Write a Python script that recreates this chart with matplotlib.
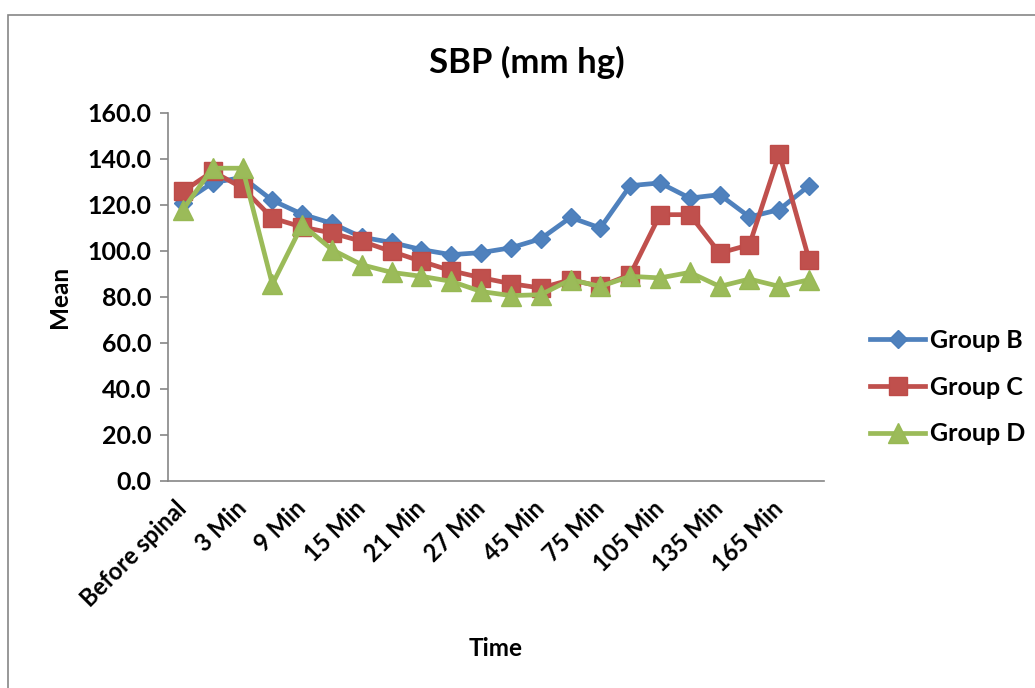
import matplotlib.pyplot as plt
from matplotlib.patches import Rectangle
import numpy as np

plt.rcParams["font.family"] = ["Lato", "DejaVu Sans"]
plt.rcParams["font.weight"] = "bold"

TIMES = ["Before spinal", "1 Min", "3 Min", "6 Min", "9 Min", "12 Min", "15 Min",
         "18 Min", "21 Min", "24 Min", "27 Min", "30 Min", "45 Min", "60 Min",
         "75 Min", "90 Min", "105 Min", "120 Min", "135 Min", "150 Min",
         "165 Min", "180 Min"]

group_b = [121.0, 129.7, 132.0, 122.0, 116.0, 112.0, 106.0, 103.7, 100.6, 98.4, 99.3,
           101.4, 105.3, 114.6, 110.0, 128.4, 129.6, 123.0, 124.5, 114.8, 118.0, 128.4]
group_c = [125.9, 134.6, 127.4, 114.3, 110.4, 107.8, 104.2, 99.8, 95.5, 91.4, 88.4,
           85.8, 83.9, 87.5, 84.6, 89.7, 115.8, 115.8, 99.1, 102.7, 142.3, 96.2]
group_d = [118.0, 136.0, 136.0, 85.5, 111.4, 100.6, 94.0, 90.7, 89.0, 86.8, 82.4,
           80.6, 81.0, 87.5, 84.6, 89.0, 88.3, 90.7, 84.6, 87.8, 84.6, 87.5]

x = np.arange(len(TIMES))

fig = plt.figure(figsize=(10.35, 6.88), dpi=100)
ax = fig.add_axes([168 / 1035, 1 - 481 / 688, (824 - 168) / 1035, (481 - 113) / 688])

# chart area border (runs off the right and bottom edge)
fig.add_artist(Rectangle((8 / 1035, -0.2), 1.2, 0.2 + (1 - 15 / 688),
                         transform=fig.transFigure, fill=False,
                         edgecolor="#868686", linewidth=1.2))

ax.plot(x, group_b, color="#4F81BD", lw=3.4, marker="D", ms=9.5,
        mec="#4A7EBB", mfc="#4F81BD", label="Group B")
ax.plot(x, group_c, color="#C0504D", lw=3.4, marker="s", ms=13,
        mec="#BE4B48", mfc="#C0504D", label="Group C")
ax.plot(x, group_d, color="#9BBB59", lw=3.4, marker="^", ms=14,
        mec="#98B954", mfc="#9BBB59", label="Group D")

ax.set_xlim(-0.5, len(TIMES) - 0.5)
ax.set_ylim(0, 160)
ax.set_yticks(np.arange(0, 161, 20))
ax.set_yticklabels([f"{v:.1f}" for v in np.arange(0, 161, 20)], fontsize=18)

ax.set_xticks(x[::2])
ax.set_xticklabels(TIMES[::2], fontsize=17, rotation=45, ha="right",
                   va="center", rotation_mode="anchor")

ax.tick_params(axis="x", length=0, pad=17)
ax.tick_params(axis="y", direction="out", length=6, width=1.2, color="#868686", pad=6)

for side in ["top", "right"]:
    ax.spines[side].set_visible(False)
for side in ["left", "bottom"]:
    ax.spines[side].set_color("#868686")
    ax.spines[side].set_linewidth(1.2)

ax.set_ylabel("Mean", fontsize=17.5, fontweight="bold", labelpad=12)
fig.text(496 / 1035, 1 - 649 / 688, "Time", fontsize=17.5, fontweight="bold",
         ha="center", va="center")
fig.text(527 / 1035, 1 - 62 / 688, "SBP (mm hg)", fontsize=25, fontweight="bold",
         ha="center", va="center")

ax.legend(loc="center left", bbox_to_anchor=(1.055, 0.255), frameon=False,
          fontsize=18, handlelength=2.2, labelspacing=0.95, handletextpad=0.2,
          borderaxespad=0)

fig.savefig("out.png", dpi=100)
